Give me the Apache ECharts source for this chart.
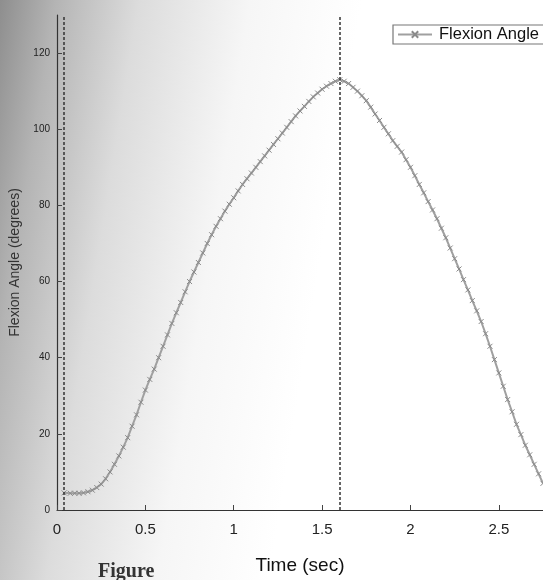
<!DOCTYPE html>
<html>
<head>
<meta charset="utf-8">
<script src="https://cdn.jsdelivr.net/npm/echarts@6/dist/echarts.min.js"></script>
<style>html,body{margin:0;padding:0;background:#fff}#c{width:543px;height:580px}</style>
</head>
<body>
<div id="c"></div>
<script>
// ---- data ----
const timeSec = [0.04,0.075,0.1,0.125,0.15,0.175,0.2,0.225,0.25,0.275,0.3,0.325,0.35,0.375,0.4,0.425,0.45,0.475,0.5,0.525,0.55,0.575,0.6,0.625,0.65,0.675,0.7,0.725,0.75,0.775,0.8,0.825,0.85,0.875,0.9,0.925,0.95,0.975,1.0,1.025,1.05,1.075,1.1,1.125,1.15,1.175,1.2,1.225,1.25,1.275,1.3,1.325,1.35,1.375,1.4,1.425,1.45,1.475,1.5,1.525,1.55,1.575,1.6,1.625,1.65,1.675,1.7,1.725,1.75,1.775,1.8,1.825,1.85,1.875,1.9,1.925,1.95,1.975,2.0,2.025,2.05,2.075,2.1,2.125,2.15,2.175,2.2,2.225,2.25,2.275,2.3,2.325,2.35,2.375,2.4,2.425,2.45,2.475,2.5,2.525,2.55,2.575,2.6,2.625,2.65,2.675,2.7,2.725,2.75];
const flexionAngle = [4.5,4.4,4.4,4.4,4.5,4.8,5.2,5.9,6.8,8.2,10,12,14.2,16.5,19,22,25,28.3,31.5,34.3,37,40,43,46,49,51.8,54.5,57.3,60,62.5,65,67.5,70,72.3,74.5,76.5,78.5,80.3,82,83.8,85.5,87,88.5,90,91.5,93,94.5,96,97.5,99,100.5,102,103.5,104.8,106,107.3,108.5,109.5,110.5,111.3,112,112.6,113,112.6,112,111,110,108.8,107.5,105.8,104,102.3,100.5,98.8,97,95.5,94,92,90,87.8,85.5,83.3,81,78.8,76.5,74,71.5,68.8,66,63.3,60.5,57.8,55,52.3,49.5,46.3,43,39.5,36,32.5,29,25.8,22.5,19.8,17,14.5,12,9.5,7];
const markerTimes = [0.045, 1.6];
const xTicks = [0, 0.5, 1, 1.5, 2, 2.5];
const yTicks = [0, 20, 40, 60, 80, 100, 120];
const seriesName = 'Flexion Angle';

const pts = timeSec.map((t, i) => [t, flexionAngle[i]]);
const xMark = 'path://M0,0L10,10M10,0L0,10';

const chart = echarts.init(document.getElementById('c'), null, {renderer: 'canvas'});
chart.setOption({
  animation: false,
  backgroundColor: {
    type: 'linear', x: 0, y: 0, x2: 1, y2: 0.15,
    colorStops: [
      {offset: 0, color: '#8e8e8e'},
      {offset: 0.1, color: '#b4b4b4'},
      {offset: 0.25, color: '#dcdcdc'},
      {offset: 0.45, color: '#f6f6f6'},
      {offset: 0.65, color: '#ffffff'},
      {offset: 1, color: '#ffffff'}
    ]
  },
  textStyle: {fontFamily: 'Liberation Sans, Arial, sans-serif'},
  grid: {left: 57, right: 0, top: 15, bottom: 68, containLabel: false},
  legend: {
    data: [{name: seriesName}],
    left: 393, top: 25,
    itemWidth: 34, itemHeight: 8,
    backgroundColor: '#ffffff',
    borderColor: '#777', borderWidth: 1.2,
    padding: [1, 20, 1, 4],
    itemGap: 4,
    textStyle: {fontSize: 16.5, color: '#111', fontFamily: 'Liberation Sans, Arial, sans-serif', padding: [0, 0, 0, 2]}
  },
  xAxis: {
    type: 'value', min: 0, max: 2.75,
    name: 'Time (sec)', nameLocation: 'middle', nameGap: 46,
    nameTextStyle: {fontSize: 19, color: '#111'},
    axisLine: {lineStyle: {color: '#333', width: 1.2}},
    axisTick: {inside: true, length: 5, customValues: xTicks, lineStyle: {color: '#444'}},
    axisLabel: {customValues: xTicks, fontSize: 15, color: '#222', margin: 12,
      formatter: v => String(v)},
    splitLine: {show: false}
  },
  yAxis: {
    type: 'value', min: 0, max: 130,
    name: 'Flexion Angle (degrees)', nameLocation: 'middle', nameGap: 28,
    nameTextStyle: {fontSize: 14, color: '#333'},
    axisLine: {show: true, lineStyle: {color: '#333', width: 1.2}},
    axisTick: {show: true, inside: true, length: 5, customValues: yTicks, lineStyle: {color: '#444'}},
    axisLabel: {customValues: yTicks, fontSize: 10, color: '#222', margin: 7},
    splitLine: {show: false}
  },
  graphic: [{
    type: 'text', left: 98, top: 562,
    style: {text: 'Figure', fontSize: 20, fontWeight: 'bold', fill: '#333', fontFamily: 'Liberation Serif, serif'}
  }],
  series: [{
    name: seriesName,
    type: 'line',
    data: pts,
    smooth: false,
    symbol: xMark,
    symbolSize: 5,
    showSymbol: true,
    lineStyle: {color: '#a0a0a0', width: 2},
    itemStyle: {color: '#9a9a9a', borderColor: '#8a8a8a', borderWidth: 1},
    markLine: {
      silent: true,
      symbol: 'none',
      label: {show: false},
      lineStyle: {color: '#333', type: [3, 2], width: 1.5},
      data: markerTimes.map(t => ({xAxis: t}))
    },
    z: 3
  }]
});
</script>
</body>
</html>
